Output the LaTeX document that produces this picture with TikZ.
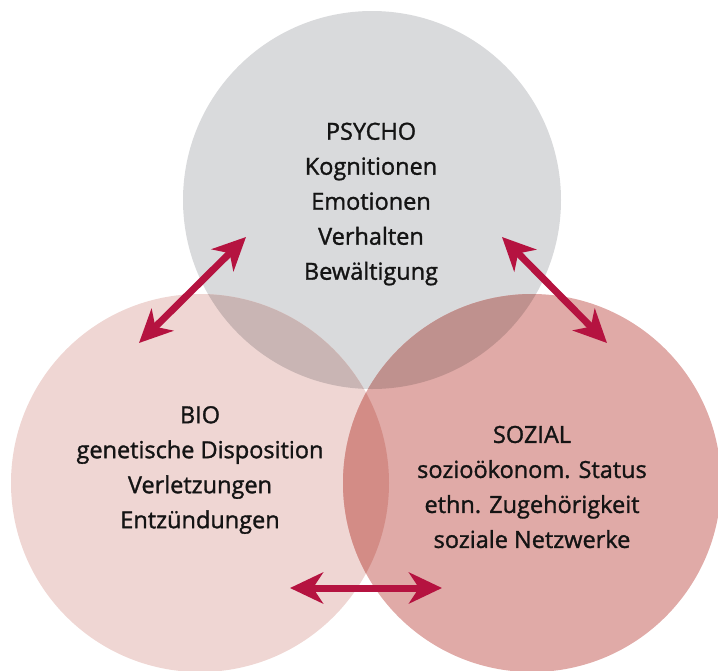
\documentclass[tikz,border=0pt]{standalone}
\usepackage{fontspec}
\setmainfont{Open Sans}[FakeBold=1.3]
\usetikzlibrary{arrows.meta}
\definecolor{cgray}{HTML}{D9DADC}
\definecolor{cbio}{HTML}{EFD6D3}
\definecolor{csoz}{HTML}{E0AAA7}
\definecolor{ctl}{HTML}{C9B5B4}
\definecolor{ctr}{HTML}{BF918E}
\definecolor{clr}{HTML}{D38C86}
\definecolor{ctri}{HTML}{C48A85}
\definecolor{carrow}{HTML}{B51340}
\definecolor{ctext}{HTML}{141414}
\tikzset{
  lbl/.style={align=center, font=\fontsize{23.5}{35}\selectfont, text=ctext, inner sep=0pt},
  dblarrow/.style={draw=carrow, line width=7pt,
    {Stealth[length=33pt,width=31pt,inset=10pt]}-{Stealth[length=33pt,width=31pt,inset=10pt]}}
}
\begin{document}
\begin{tikzpicture}[x=1pt,y=-1pt]
\useasboundingbox (0,0) rectangle (718,670);
\begin{scope}
\clip (0,0) rectangle (718,670);
% base circles
\fill[cgray] (372,200) circle (189pt);
\fill[cbio] (200,483) circle (189pt);
\fill[csoz] (532,483) circle (189pt);
% overlaps
\begin{scope}
  \clip (372,200) circle (189pt);
  \fill[ctl] (200,483) circle (189pt);
\end{scope}
\begin{scope}
  \clip (372,200) circle (189pt);
  \fill[ctr] (532,483) circle (189pt);
\end{scope}
\begin{scope}
  \clip (200,483) circle (189pt);
  \fill[clr] (532,483) circle (189pt);
\end{scope}
\begin{scope}
  \clip (200,483) circle (189pt);
  \clip (532,483) circle (189pt);
  \fill[ctri] (372,200) circle (189pt);
\end{scope}
\end{scope}
% labels
\node[lbl] (psycho) at (371,204) {PSYCHO\\Kognitionen\\Emotionen\\Verhalten\\Bewältigung};
\node[lbl] (bio) at (200,470) {BIO\\genetische Disposition\\Verletzungen\\Entzündungen};
\node[lbl] (sozial) at (532,487) {SOZIAL\\sozioökonom. Status\\ethn. Zugehörigkeit\\soziale Netzwerke};
% arrows
\coordinate (a1) at (139,343);
\coordinate (a2) at (246,237);
\coordinate (b1) at (502,237);
\coordinate (b2) at (607,343);
\coordinate (c1) at (290,588);
\coordinate (c2) at (442,588);
\draw[dblarrow] (a1) -- (a2);
\draw[dblarrow] (b1) -- (b2);
\draw[dblarrow] (c1) -- (c2);
\end{tikzpicture}
\end{document}
